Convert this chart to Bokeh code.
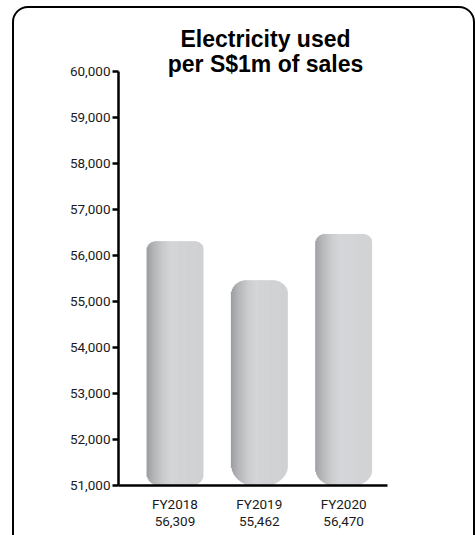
import numpy as np
from bokeh.plotting import figure
from bokeh.models import Range1d, FixedTicker, NumeralTickFormatter, Label
from bokeh.embed import file_html
from bokeh.resources import INLINE

# ---- data ----
years = ["FY2018", "FY2019", "FY2020"]
values = [56309, 55462, 56470]
y_ticks = [51000, 52000, 53000, 54000, 55000, 56000, 57000, 58000, 59000, 60000]
title_lines = ["Electricity used", "per S$1m of sales"]

# ---- layout / style ----
W, H = 475, 535
FL, FR, FB = 118, 387, 485      # frame left/right/bottom in px (frame top = canvas top)
AX_TOP = 71                     # pixel row of the 60,000 tick
y_lo, y_axis_hi = 51000, 60000
x_lo, x_hi = -0.67, 2.52
bar_w = 0.675
top_r = [9, 15, 10]
bot_r = [12, 22, 18]
FONT_N = "Roboto"
FONT_B = "Liberation Sans"

px_y = (FB - AX_TOP) / (y_axis_hi - y_lo)
y_hi = y_axis_hi + AX_TOP / px_y
px_x = (FR - FL) / (x_hi - x_lo)

def xdata(px):
    return x_lo + (px - FL) / px_x

def ydata(py):
    return y_lo + (FB - py) / px_y

border_css = """
:host { position: relative; overflow: hidden; }
:host::after {
  content: ''; position: absolute; left: 12px; top: 6px; width: 459px; height: 545px;
  border: 2px solid #000; border-radius: 16px; pointer-events: none;
}
"""

p = figure(width=W, height=H, x_range=Range1d(x_lo, x_hi), y_range=Range1d(y_lo, y_hi),
           output_backend="svg", toolbar_location=None,
           min_border_left=FL, min_border_right=W - FR, min_border_top=0, min_border_bottom=H - FB,
           stylesheets=[border_css])
p.title.visible = False
p.outline_line_color = None
p.xgrid.visible = False
p.ygrid.visible = False
p.background_fill_color = "white"
p.border_fill_color = "white"

stops = np.array([0.0, 0.12, 0.3, 0.45, 0.6, 1.0])
cols = np.array([[0x9c, 0x9d, 0xa1], [0xb3, 0xb4, 0xb7], [0xcb, 0xcc, 0xce],
                 [0xd4, 0xd5, 0xd7], [0xd2, 0xd3, 0xd5], [0xd0, 0xd1, 0xd3]], dtype=float)

def grad(f):
    c = [np.interp(f, stops, cols[:, k]) for k in range(3)]
    return "#%02x%02x%02x" % tuple(int(round(v)) for v in c)

def dip(e, r):
    if e >= r:
        return 0.0
    return r - np.sqrt(max(r * r - (r - e) ** 2, 0.0))

L, R, T, B, C = [], [], [], [], []
for i, v in enumerate(values):
    wpx = bar_w * px_x
    n = int(round(wpx))
    step = wpx / n
    x0 = i - bar_w / 2
    for j in range(n):
        d = (j + 0.5) * step
        e = min(d, wpx - d)
        L.append(x0 + j * step / px_x)
        R.append(x0 + min((j + 1.6) * step, wpx) / px_x)
        T.append(v - dip(e, top_r[i]) / px_y)
        B.append(y_lo + dip(e, bot_r[i]) / px_y)
        C.append(grad(d / wpx))

p.quad(left=L, right=R, top=T, bottom=B, fill_color=C, line_color=None)

# y axis
ya = p.yaxis[0]
ya.ticker = FixedTicker(ticks=y_ticks)
ya.bounds = (y_lo, y_axis_hi)
ya.formatter = NumeralTickFormatter(format="0,0")
ya.axis_line_width = 2.5
ya.axis_line_color = "black"
ya.major_tick_line_width = 2.5
ya.major_tick_out = 6
ya.major_tick_in = 0
ya.minor_tick_line_color = None
ya.major_label_text_font = FONT_N
ya.major_label_text_font_size = "13.5px"
ya.major_label_text_color = "#1a1a1a"
ya.major_label_standoff = 2

# x axis
xa = p.xaxis[0]
xa.ticker = FixedTicker(ticks=[0, 1, 2])
xa.major_label_overrides = {i: "%s\n%s" % (years[i], format(values[i], ",")) for i in range(3)}
xa.axis_line_width = 2.5
xa.axis_line_color = "black"
xa.major_tick_line_color = None
xa.minor_tick_line_color = None
xa.major_label_text_font = FONT_N
xa.major_label_text_font_size = "13.5px"
xa.major_label_text_line_height = 1.12
xa.major_label_text_color = "#1a1a1a"
xa.major_label_standoff = 4

# title
for k, t in enumerate(title_lines):
    p.add_layout(Label(x=xdata(265), y=ydata(38.5 + 25 * k), text=t,
                       text_align="center", text_baseline="alphabetic",
                       text_font=FONT_B, text_font_style="bold", text_font_size="23px",
                       text_color="black"))

open("out.html", "w").write(file_html(p, INLINE))
